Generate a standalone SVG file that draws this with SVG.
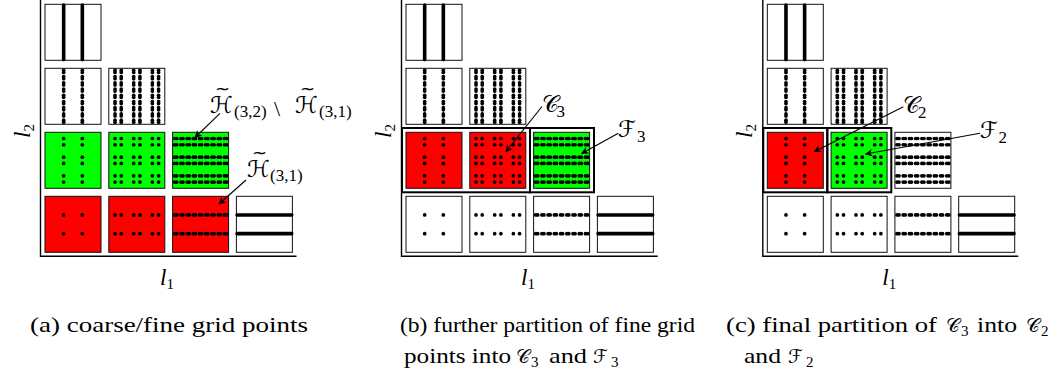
<svg xmlns="http://www.w3.org/2000/svg" xmlns:xlink="http://www.w3.org/1999/xlink" width="1059" height="372" viewBox="0 0 1059 372">
<style>
.box{stroke:#111;stroke-width:1}
.white{fill:#fff}
.red{fill:#ff0000}
.green{fill:#00ff00}
.dot{fill:#000}
.solid{stroke:#000;stroke-width:3.6;stroke-linecap:round}
.axis{fill:none;stroke:#000;stroke-width:1.4}
.part{fill:none;stroke:#000;stroke-width:2}
.arrow{fill:none;stroke:#000;stroke-width:1.1;marker-end:url(#ah)}
.rm{font-family:"Liberation Serif","Times New Roman",serif;font-size:22px;fill:#000}
.it{font-family:"Liberation Serif","Times New Roman",serif;font-style:italic;font-size:23px;fill:#000}
.sub{font-family:"Liberation Serif","Times New Roman",serif;font-size:15px;fill:#000}
.msub{font-family:"Liberation Serif","Times New Roman",serif;font-size:17px;fill:#000}
.cal{font-family:"DejaVu Serif","DejaVu Sans","Noto Sans",serif;font-size:23px;fill:#000}
.ccal{font-family:"DejaVu Serif","DejaVu Sans","Noto Sans",serif;font-size:19px;fill:#000}
.csub{font-family:"Liberation Serif","Times New Roman",serif;font-size:15px;fill:#000}
.tl{font-family:"DejaVu Sans",sans-serif;font-size:18px;fill:#000}
</style>
<defs>
<marker id="ah" viewBox="0 0 10 10" refX="9" refY="5" markerWidth="7.5" markerHeight="7.5" markerUnits="userSpaceOnUse" orient="auto">
<path d="M0,0 L10,5 L0,10 L3,5 z" fill="#000"/>
</marker>
<g id="r1" class="dot"><circle cx="18.67" r="1.85"/><circle cx="37.33" r="1.85"/></g>
<g id="r2" class="dot"><circle cx="6.22" r="1.85"/><circle cx="12.44" r="1.85"/><circle cx="24.89" r="1.85"/><circle cx="31.11" r="1.85"/><circle cx="43.56" r="1.85"/><circle cx="49.78" r="1.85"/></g>
<g id="r3" class="dot"><circle cx="2.07" r="1.85"/><circle cx="4.15" r="1.85"/><circle cx="8.30" r="1.85"/><circle cx="10.37" r="1.85"/><circle cx="14.52" r="1.85"/><circle cx="16.59" r="1.85"/><circle cx="20.74" r="1.85"/><circle cx="22.81" r="1.85"/><circle cx="26.96" r="1.85"/><circle cx="29.04" r="1.85"/><circle cx="33.19" r="1.85"/><circle cx="35.26" r="1.85"/><circle cx="39.41" r="1.85"/><circle cx="41.48" r="1.85"/><circle cx="45.63" r="1.85"/><circle cx="47.70" r="1.85"/><circle cx="51.85" r="1.85"/><circle cx="53.93" r="1.85"/></g>
<line id="r4" class="solid" x1="0.7" y1="0" x2="55.3" y2="0"/>
<g id="c2"><use href="#r2" transform="rotate(90)"/></g>
<g id="c3"><use href="#r3" transform="rotate(90)"/></g>
<g id="c4"><use href="#r4" transform="rotate(90)"/></g>
<g id="b11"><use href="#r1" y="18.67"/><use href="#r1" y="37.33"/></g>
<g id="b21"><use href="#r2" y="18.67"/><use href="#r2" y="37.33"/></g>
<g id="b31"><use href="#r3" y="18.67"/><use href="#r3" y="37.33"/></g>
<g id="b41"><use href="#r4" y="18.67"/><use href="#r4" y="37.33"/></g>
<g id="b12"><use href="#c2" x="18.67"/><use href="#c2" x="37.33"/></g>
<g id="b13"><use href="#c3" x="18.67"/><use href="#c3" x="37.33"/></g>
<g id="b14"><use href="#c4" x="18.67"/><use href="#c4" x="37.33"/></g>
<g id="b22"><use href="#r2" y="6.22"/><use href="#r2" y="12.44"/><use href="#r2" y="24.89"/><use href="#r2" y="31.11"/><use href="#r2" y="43.56"/><use href="#r2" y="49.78"/></g>
<g id="b32"><use href="#r3" y="6.22"/><use href="#r3" y="12.44"/><use href="#r3" y="24.89"/><use href="#r3" y="31.11"/><use href="#r3" y="43.56"/><use href="#r3" y="49.78"/></g>
<g id="b23"><use href="#c3" x="6.22"/><use href="#c3" x="12.44"/><use href="#c3" x="24.89"/><use href="#c3" x="31.11"/><use href="#c3" x="43.56"/><use href="#c3" x="49.78"/></g>
</defs>
<rect width="1059" height="372" fill="#fff"/>

<!-- Panel (a) -->
<g id="panel-a">
<polyline class="axis" points="40.5,0 40.5,256.3 296.5,256.3"/>
<g id="a-11"><rect class="box red" x="45" y="196.3" width="56" height="56"/><use href="#b11" x="45" y="196.3"/></g>
<g id="a-21"><rect class="box red" x="108.8" y="196.3" width="56" height="56"/><use href="#b21" x="108.8" y="196.3"/></g>
<g id="a-31"><rect class="box red" x="172.6" y="196.3" width="56" height="56"/><use href="#b31" x="172.6" y="196.3"/></g>
<g id="a-41"><rect class="box white" x="236.4" y="196.3" width="56" height="56"/><use href="#b41" x="236.4" y="196.3"/></g>
<g id="a-12"><rect class="box green" x="45" y="132.3" width="56" height="56"/><use href="#b12" x="45" y="132.3"/></g>
<g id="a-22"><rect class="box green" x="108.8" y="132.3" width="56" height="56"/><use href="#b22" x="108.8" y="132.3"/></g>
<g id="a-32"><rect class="box green" x="172.6" y="132.3" width="56" height="56"/><use href="#b32" x="172.6" y="132.3"/></g>
<g id="a-13"><rect class="box white" x="45" y="68.3" width="56" height="56"/><use href="#b13" x="45" y="68.3"/></g>
<g id="a-23"><rect class="box white" x="108.8" y="68.3" width="56" height="56"/><use href="#b23" x="108.8" y="68.3"/></g>
<g id="a-14"><rect class="box white" x="45" y="4.3" width="56" height="56"/><use href="#b14" x="45" y="4.3"/></g>
<text class="it" x="160" y="285">l<tspan class="sub" font-style="normal" dy="4">1</tspan></text>
<text class="it" transform="translate(30,138) rotate(-90)">l<tspan class="sub" font-style="normal" dy="4">2</tspan></text>
</g>

<!-- Panel (b) -->
<g id="panel-b" transform="translate(361,0)">
<polyline class="axis" points="40.5,0 40.5,256.3 296.7,256.3"/>
<g id="b-11"><rect class="box white" x="45" y="196.3" width="56" height="56"/><use href="#b11" x="45" y="196.3"/></g>
<g id="b-21"><rect class="box white" x="108.8" y="196.3" width="56" height="56"/><use href="#b21" x="108.8" y="196.3"/></g>
<g id="b-31"><rect class="box white" x="172.6" y="196.3" width="56" height="56"/><use href="#b31" x="172.6" y="196.3"/></g>
<g id="b-41"><rect class="box white" x="236.4" y="196.3" width="56" height="56"/><use href="#b41" x="236.4" y="196.3"/></g>
<g id="b-12"><rect class="box red" x="45" y="132.3" width="56" height="56"/><use href="#b12" x="45" y="132.3"/></g>
<g id="b-22"><rect class="box red" x="108.8" y="132.3" width="56" height="56"/><use href="#b22" x="108.8" y="132.3"/></g>
<g id="b-32"><rect class="box green" x="172.6" y="132.3" width="56" height="56"/><use href="#b32" x="172.6" y="132.3"/></g>
<g id="b-13"><rect class="box white" x="45" y="68.3" width="56" height="56"/><use href="#b13" x="45" y="68.3"/></g>
<g id="b-23"><rect class="box white" x="108.8" y="68.3" width="56" height="56"/><use href="#b23" x="108.8" y="68.3"/></g>
<g id="b-14"><rect class="box white" x="45" y="4.3" width="56" height="56"/><use href="#b14" x="45" y="4.3"/></g>
<g id="b-C3set"><rect class="part" x="41" y="128" width="128" height="64.3"/></g>
<g id="b-F3set"><rect class="part" x="169" y="128" width="64" height="64.3"/></g>
<text class="it" x="160" y="285">l<tspan class="sub" font-style="normal" dy="4">1</tspan></text>
<text class="it" transform="translate(30,138) rotate(-90)">l<tspan class="sub" font-style="normal" dy="4">2</tspan></text>
</g>

<!-- Panel (c) -->
<g id="panel-c" transform="translate(722.3,0)">
<polyline class="axis" points="40.5,0 40.5,256.3 296,256.3"/>
<g id="c-11"><rect class="box white" x="45" y="196.3" width="56" height="56"/><use href="#b11" x="45" y="196.3"/></g>
<g id="c-21"><rect class="box white" x="108.8" y="196.3" width="56" height="56"/><use href="#b21" x="108.8" y="196.3"/></g>
<g id="c-31"><rect class="box white" x="172.6" y="196.3" width="56" height="56"/><use href="#b31" x="172.6" y="196.3"/></g>
<g id="c-41"><rect class="box white" x="236.4" y="196.3" width="56" height="56"/><use href="#b41" x="236.4" y="196.3"/></g>
<g id="c-12"><rect class="box red" x="45" y="132.3" width="56" height="56"/><use href="#b12" x="45" y="132.3"/></g>
<g id="c-22"><rect class="box green" x="108.8" y="132.3" width="56" height="56"/><use href="#b22" x="108.8" y="132.3"/></g>
<g id="c-32"><rect class="box white" x="172.6" y="132.3" width="56" height="56"/><use href="#b32" x="172.6" y="132.3"/></g>
<g id="c-13"><rect class="box white" x="45" y="68.3" width="56" height="56"/><use href="#b13" x="45" y="68.3"/></g>
<g id="c-23"><rect class="box white" x="108.8" y="68.3" width="56" height="56"/><use href="#b23" x="108.8" y="68.3"/></g>
<g id="c-14"><rect class="box white" x="45" y="4.3" width="56" height="56"/><use href="#b14" x="45" y="4.3"/></g>
<g id="c-C2set"><rect class="part" x="41" y="128" width="64" height="64.3"/></g>
<g id="c-F2set"><rect class="part" x="105" y="128" width="64" height="64.3"/></g>
<text class="it" x="160" y="285">l<tspan class="sub" font-style="normal" dy="4">1</tspan></text>
<text class="it" transform="translate(30,138) rotate(-90)">l<tspan class="sub" font-style="normal" dy="4">2</tspan></text>
</g>

<!-- connectors -->
<g id="connectors">
<line class="arrow" x1="220" y1="113.3" x2="195" y2="137.5"/>
<line class="arrow" x1="246" y1="180" x2="219" y2="204"/>
<line class="arrow" x1="542" y1="106.5" x2="506" y2="151.7"/>
<line class="arrow" x1="618.3" y1="133.3" x2="581.7" y2="153.5"/>
<line class="arrow" x1="903.3" y1="106.7" x2="814.3" y2="151.7"/>
<line class="arrow" x1="980" y1="133.3" x2="865.7" y2="154"/>
</g>

<!-- math labels -->
<g id="label-H32-H31">
<text class="cal" x="210" y="113">ℋ</text><text class="tl" x="215" y="95">~</text>
<text class="msub" x="234" y="117">(3,2)</text>
<text class="rm" x="274" y="116" font-size="30">\</text>
<text class="cal" x="295" y="113">ℋ</text><text class="tl" x="300" y="95">~</text>
<text class="msub" x="319" y="117">(3,1)</text>
</g>
<g id="label-H31">
<text class="cal" x="247" y="177">ℋ</text><text class="tl" x="252" y="159">~</text>
<text class="msub" x="270" y="181">(3,1)</text>
</g>
<g id="label-C3"><text class="cal" x="541.7" y="111.5">𝒞</text><text class="msub" x="556.5" y="116.5">3</text></g>
<g id="label-F3"><text class="cal" x="618" y="136.5">ℱ</text><text class="msub" x="637" y="141.5">3</text></g>
<g id="label-C2"><text class="cal" x="903" y="113">𝒞</text><text class="msub" x="918" y="118">2</text></g>
<g id="label-F2"><text class="cal" x="980" y="138">ℱ</text><text class="msub" x="998.5" y="143">2</text></g>

<!-- captions -->
<g id="captions">
<text class="rm" x="30" y="332" textLength="278" lengthAdjust="spacingAndGlyphs">(a) coarse/fine grid points</text>
<text class="rm" x="400" y="332" textLength="295" lengthAdjust="spacingAndGlyphs">(b) further partition of fine grid</text>
<text class="rm" x="404" y="363" textLength="107" lengthAdjust="spacingAndGlyphs">points into</text>
<text class="ccal" x="516" y="363">𝒞</text><text class="csub" x="531" y="367">3</text>
<text class="rm" x="549" y="363" textLength="38" lengthAdjust="spacingAndGlyphs">and</text>
<text class="ccal" x="593" y="363">ℱ</text><text class="csub" x="611" y="367">3</text>
<text class="rm" x="726" y="332" textLength="211" lengthAdjust="spacingAndGlyphs">(c) final partition of</text>
<text class="ccal" x="946" y="332">𝒞</text><text class="csub" x="961" y="336">3</text>
<text class="rm" x="977" y="332" textLength="40" lengthAdjust="spacingAndGlyphs">into</text>
<text class="ccal" x="1026" y="332">𝒞</text><text class="csub" x="1041" y="336">2</text>
<text class="rm" x="744" y="363" textLength="37" lengthAdjust="spacingAndGlyphs">and</text>
<text class="ccal" x="788" y="363">ℱ</text><text class="csub" x="806" y="367">2</text>
</g>
</svg>
